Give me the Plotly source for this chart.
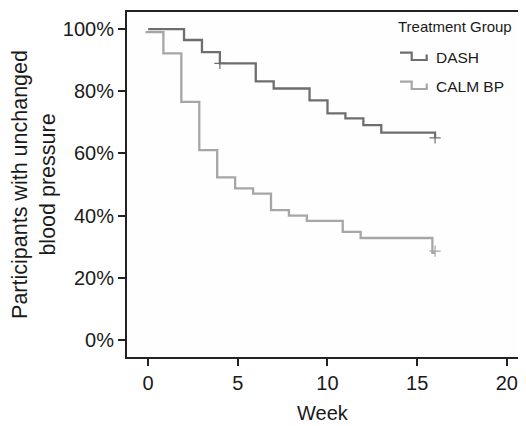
import plotly.graph_objects as go

# ---- data ----
dash_weeks = [0, 2, 3, 4, 6, 7, 9, 10, 11, 12, 13, 16]
dash_surv = [100, 96.5, 92.6, 89.0, 83.2, 80.9, 77.1, 72.9, 71.3, 69.1, 66.7, 65.0]
dash_censor_weeks = [4, 16]
dash_censor_surv = [89.0, 65.0]

calm_weeks = [-0.15, 0.85, 1.85, 2.85, 3.85, 4.85, 5.85, 6.85, 7.85, 8.85, 10.85, 11.85, 15.85]
calm_surv = [99.0, 92.2, 76.6, 61.1, 52.3, 48.8, 47.1, 41.8, 40.0, 38.3, 34.8, 32.8, 28.0]
calm_censor_weeks = [16]
calm_censor_surv = [28.6]

x_ticks = [0, 5, 10, 15, 20]
y_ticks = [0, 20, 40, 60, 80, 100]
y_tick_labels = ["0%", "20%", "40%", "60%", "80%", "100%"]

groups = ["DASH", "CALM BP"]
colors = {"DASH": "#6e6e6e", "CALM BP": "#a6a6a6"}

FONT = "Liberation Sans, Arial, Helvetica, sans-serif"
TXT = "#1a1a1a"

# page body has an 8px margin; compensate so the plot lands where the reference has it
OFF = 8
W, H = 526 - OFF, 426 - OFF
ML, MR, MT, MB = 127 - OFF, 0, 12 - OFF, 69

fig = go.Figure()

series = {
    "DASH": (dash_weeks, dash_surv, dash_censor_weeks, dash_censor_surv),
    "CALM BP": (calm_weeks, calm_surv, calm_censor_weeks, calm_censor_surv),
}
for g in groups:
    wx, sy, cx, cy = series[g]
    xs = list(wx) + [cx[-1]]
    ys = list(sy) + [sy[-1]]
    fig.add_trace(go.Scatter(x=xs, y=ys, mode="lines", line=dict(shape="hv", color=colors[g], width=2.3),
                             showlegend=False, hoverinfo="skip"))
    fig.add_trace(go.Scatter(x=cx, y=cy, mode="markers",
                             marker=dict(symbol="cross-thin", size=8, line=dict(color=colors[g], width=1.2)),
                             showlegend=False, hoverinfo="skip"))

# ---- custom legend (step-shaped keys); positions given in window pixels ----
pw = W - ML - MR
ph = H - MT - MB
def px(x):
    return (x - OFF - ML) / pw
def py(y):
    return (H - MB - (y - OFF)) / ph

fig.add_annotation(text="Treatment Group", x=px(396), y=py(26), xref="paper", yref="paper",
                   xanchor="left", yanchor="middle", showarrow=False,
                   font=dict(family=FONT, size=15, color=TXT))
for i, g in enumerate(groups):
    top = 52.7 + i * 29
    bot = top + 7.3
    path = (f"M {px(400)} {py(top)} L {px(411.7)} {py(top)} L {px(411.7)} {py(bot)} "
            f"L {px(426.7)} {py(bot)} L {px(426.7)} {py(top + 1.8)}")
    fig.add_shape(type="path", path=path, xref="paper", yref="paper",
                  line=dict(color=colors[g], width=2.2))
    fig.add_annotation(text=g, x=px(434), y=py(top + 4.5), xref="paper", yref="paper",
                       xanchor="left", yanchor="middle", showarrow=False,
                       font=dict(family=FONT, size=15.5, color=TXT))

# x-axis title placed as text below the tick labels
fig.add_annotation(text="Week", x=px(323), y=py(413), xref="paper", yref="paper",
                   xanchor="center", yanchor="middle", showarrow=False,
                   font=dict(family=FONT, size=20, color=TXT))

fig.update_layout(
    width=W, height=H,
    margin=dict(l=ML, r=MR, t=MT, b=MB, autoexpand=False),
    paper_bgcolor="white", plot_bgcolor="#fefefe",
    font=dict(family=FONT, color=TXT),
    showlegend=False,
)
fig.update_xaxes(
    range=[-1.18, 21.07], tickvals=x_ticks, ticks="outside", ticklen=7, tickwidth=2, tickcolor="#222",
    showline=True, linecolor="#222", linewidth=2, mirror=True, showgrid=False, zeroline=False,
    tickfont=dict(size=20, family=FONT, color=TXT),
)
fig.update_yaxes(
    range=[-5.47, 105.5], tickvals=y_ticks, ticktext=y_tick_labels, ticks="outside", ticklen=7, tickwidth=2,
    tickcolor="#222", showline=True, linecolor="#222", linewidth=2, mirror=False, showgrid=False, zeroline=False,
    tickfont=dict(size=20, family=FONT, color=TXT),
    title=dict(text="Participants with unchanged<br>blood pressure", font=dict(size=21.5, family=FONT, color=TXT),
               standoff=9),
)

fig.write_html("out.html")
